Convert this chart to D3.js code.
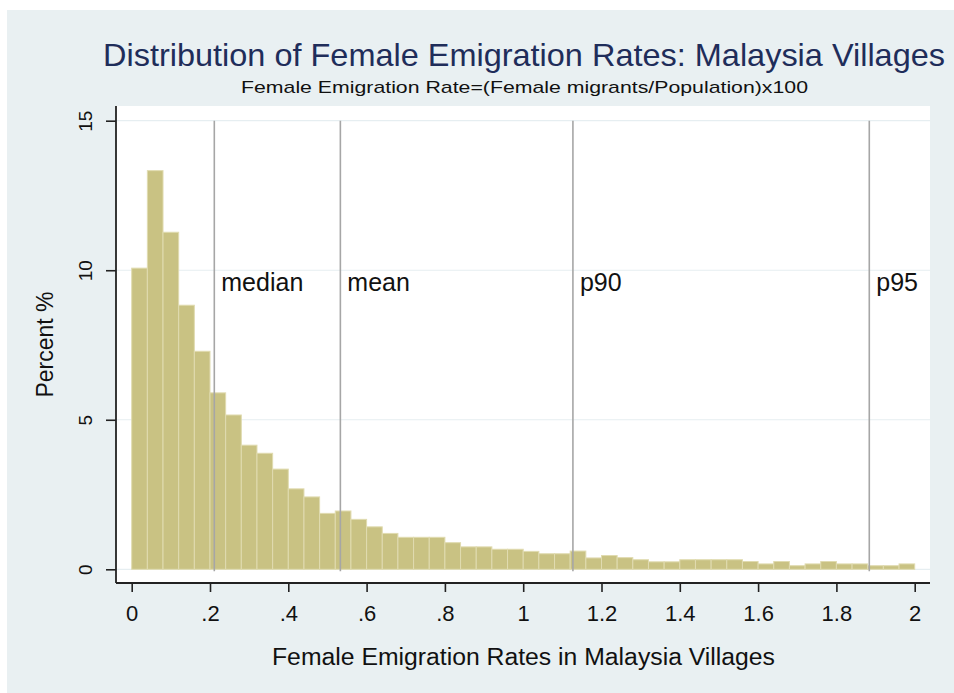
<!DOCTYPE html>
<html>
  <head>
    <meta charset="utf-8">
    <title>Distribution of Female Emigration Rates</title>
    <script src="https://d3js.org/d3.v7.min.js"></script>
    <style>
      body { margin: 0; background: #fff; }
      svg { display: block; font-family: "Liberation Sans", Arial, sans-serif; }
      .axis text { fill: #111; }
      .axis line { stroke: #222; stroke-width: 1.6; }
    </style>
  </head>
  <body>
    <svg id="svg" width="954" height="693"></svg>
    <script>
      // data: percent of villages in each 0.04-wide bin, from 0 to 2
      var binWidth = 0.04;
      var percents = [10.07, 13.33, 11.27, 8.83, 7.29, 5.90, 5.16, 4.15, 3.88, 3.35,
                      2.69, 2.42, 1.87, 1.95, 1.67, 1.42, 1.20, 1.07, 1.07, 1.07,
                      0.89, 0.75, 0.75, 0.67, 0.67, 0.60, 0.52, 0.52, 0.61, 0.38,
                      0.46, 0.39, 0.32, 0.25, 0.25, 0.32, 0.32, 0.32, 0.32, 0.26,
                      0.18, 0.26, 0.12, 0.18, 0.26, 0.18, 0.18, 0.12, 0.12, 0.18];
      // reference lines
      var refNames = ["median", "mean", "p90", "p95"];
      var refValues = [0.211, 0.533, 1.127, 1.884];
      var refLabelLevel = 9.6;
      // ticks
      var xTickValues = [0, 0.2, 0.4, 0.6, 0.8, 1, 1.2, 1.4, 1.6, 1.8, 2];
      var xTickLabels = ["0", ".2", ".4", ".6", ".8", "1", "1.2", "1.4", "1.6", "1.8", "2"];
      var yTickValues = [0, 5, 10, 15];
      var yTickLabels = ["0", "5", "10", "15"];
      // texts
      var titleText = "Distribution of Female Emigration Rates: Malaysia Villages";
      var subtitleText = "Female Emigration Rate=(Female migrants/Population)x100";
      var xTitle = "Female Emigration Rates in Malaysia Villages";
      var yTitle = "Percent %";

      var svg = d3.select("#svg");
      var plot = { left: 116, right: 930, top: 106, bottom: 583 };

      // graph region background
      svg.append("rect")
        .attr("x", 7).attr("y", 10)
        .attr("width", 947).attr("height", 683)
        .attr("fill", "#e9f0f2");
      // plot region
      svg.append("rect")
        .attr("x", plot.left).attr("y", plot.top)
        .attr("width", plot.right - plot.left).attr("height", plot.bottom - plot.top)
        .attr("fill", "#fff");

      var x = d3.scaleLinear().domain([0, 2]).range([131.7, 914.7]);
      var y = d3.scaleLinear().domain([0, 15]).range([569.3, 120.7]);

      // gridlines
      svg.append("g")
        .selectAll("line")
          .data(yTickValues)
        .enter().append("line")
          .attr("x1", plot.left).attr("x2", plot.right)
          .attr("y1", function(d) { return y(d); })
          .attr("y2", function(d) { return y(d); })
          .attr("stroke", "#e6eef1")
          .attr("stroke-width", 1.2);

      // bars
      svg.append("g")
        .selectAll("rect")
          .data(percents)
        .enter().append("rect")
          .attr("x", function(d, i) { return x(i * binWidth); })
          .attr("width", function(d, i) { return x((i + 1) * binWidth) - x(i * binWidth); })
          .attr("y", function(d) { return y(d); })
          .attr("height", function(d) { return y(0) - y(d); })
          .attr("fill", "#c9c283")
          .attr("stroke", "#e0dbb0")
          .attr("stroke-width", 1);

      // reference lines and labels
      var refs = svg.append("g")
        .selectAll("g")
          .data(refValues)
        .enter().append("g");
      refs.append("line")
        .attr("x1", function(d) { return x(d); })
        .attr("x2", function(d) { return x(d); })
        .attr("y1", y(0) + 2)
        .attr("y2", y(15))
        .attr("stroke", "#a6a6a6")
        .attr("stroke-width", 1.6);
      refs.append("text")
        .attr("x", function(d) { return x(d) + 7; })
        .attr("y", y(refLabelLevel))
        .attr("dy", "0.35em")
        .attr("font-size", 25)
        .attr("fill", "#111")
        .text(function(d, i) { return refNames[i]; });

      // axes
      svg.append("line")
        .attr("x1", plot.left).attr("x2", plot.right)
        .attr("y1", plot.bottom).attr("y2", plot.bottom)
        .attr("stroke", "#222").attr("stroke-width", 1.8);
      svg.append("line")
        .attr("x1", plot.left).attr("x2", plot.left)
        .attr("y1", plot.top).attr("y2", plot.bottom)
        .attr("stroke", "#222").attr("stroke-width", 1.8);

      var xAxis = d3.axisBottom(x)
        .tickValues(xTickValues)
        .tickFormat(function(d, i) { return xTickLabels[i]; })
        .tickSize(9)
        .tickPadding(0);
      svg.append("g")
        .attr("class", "axis")
        .attr("transform", "translate(0," + plot.bottom + ")")
        .call(xAxis)
        .call(function(g) {
          g.select(".domain").remove();
          g.selectAll("text")
            .attr("y", 38).attr("dy", null)
            .attr("font-size", 22)
            .attr("font-family", null);
        });

      var yAxis = d3.axisLeft(y)
        .tickValues(yTickValues)
        .tickFormat(function(d, i) { return yTickLabels[i]; })
        .tickSize(10);
      svg.append("g")
        .attr("class", "axis")
        .attr("transform", "translate(" + plot.left + ",0)")
        .call(yAxis)
        .call(function(g) {
          g.select(".domain").remove();
          g.selectAll("text")
            .attr("x", null).attr("dy", null)
            .attr("text-anchor", "middle")
            .attr("transform", "translate(-24,0) rotate(-90)")
            .attr("font-size", 19)
            .attr("font-family", null);
        });

      // titles
      svg.append("text")
        .attr("x", 103).attr("y", 66)
        .attr("font-size", 32)
        .attr("fill", "#1f2d5a")
        .attr("textLength", 842)
        .attr("lengthAdjust", "spacingAndGlyphs")
        .text(titleText);
      svg.append("text")
        .attr("x", 241).attr("y", 93)
        .attr("font-size", 17)
        .attr("fill", "#111")
        .attr("textLength", 567)
        .attr("lengthAdjust", "spacingAndGlyphs")
        .text(subtitleText);
      svg.append("text")
        .attr("x", 272).attr("y", 665)
        .attr("font-size", 23)
        .attr("fill", "#111")
        .attr("textLength", 503)
        .attr("lengthAdjust", "spacingAndGlyphs")
        .text(xTitle);
      svg.append("text")
        .attr("transform", "translate(53," + ((plot.top + plot.bottom) / 2) + ") rotate(-90)")
        .attr("text-anchor", "middle")
        .attr("font-size", 23)
        .attr("fill", "#111")
        .text(yTitle);
    </script>
  </body>
</html>
